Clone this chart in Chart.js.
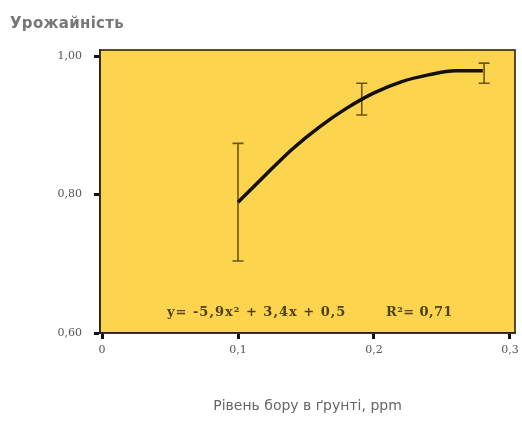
<!DOCTYPE html>
<html>
<head>
<meta charset="utf-8">
<script src="https://cdn.jsdelivr.net/npm/chart.js@4/dist/chart.umd.min.js"></script>
<style>
html,body{margin:0;padding:0;background:#fff;}
#wrap{width:522px;height:425px;position:relative;}
</style>
</head>
<body>
<div id="wrap"><canvas id="c" width="522" height="425"></canvas></div>
<script>
// Data
const curveX = [0.10, 0.12, 0.14, 0.16, 0.18, 0.20, 0.22, 0.24, 0.26, 0.28];
const curveY = [0.789, 0.828, 0.866, 0.898, 0.925, 0.947, 0.963, 0.973, 0.979, 0.979];
const errX = [0.100, 0.191, 0.281];
const errLow = [0.704, 0.915, 0.961];
const errHigh = [0.874, 0.961, 0.990];
const xTicks = [0, 0.1, 0.2, 0.3];
const xTickLabels = ['0', '0,1', '0,2', '0,3'];
const yTicks = [0.6, 0.8, 1.0];
const yTickLabels = ['0,60', '0,80', '1,00'];
const yTitle = 'Урожайність';
const xTitle = 'Рівень бору в ґрунті, ppm';
const eqText = 'y= -5,9x² + 3,4x + 0,5';
const r2Text = 'R²= 0,71';

const points = curveX.map((x, i) => ({x: x, y: curveY[i]}));

const decor = {
  id: 'decor',
  beforeDraw(chart) {
    const {ctx, chartArea: a} = chart;
    ctx.save();
    ctx.fillStyle = '#ffffff';
    ctx.fillRect(0, 0, chart.width, chart.height);
    ctx.fillStyle = '#fcd44e';
    ctx.fillRect(a.left, a.top, a.right - a.left, a.bottom - a.top);
    ctx.restore();
  },
  beforeDatasetsDraw(chart) {
    const {ctx, scales: {x, y}} = chart;
    ctx.save();
    ctx.strokeStyle = '#6b5416';
    ctx.lineWidth = 1.6;
    errX.forEach((ex, i) => {
      const px = x.getPixelForValue(ex);
      const pl = y.getPixelForValue(errLow[i]);
      const ph = y.getPixelForValue(errHigh[i]);
      ctx.beginPath();
      ctx.moveTo(px, pl); ctx.lineTo(px, ph);
      ctx.moveTo(px - 5.5, pl); ctx.lineTo(px + 5.5, pl);
      ctx.moveTo(px - 5.5, ph); ctx.lineTo(px + 5.5, ph);
      ctx.stroke();
    });
    ctx.restore();
  },
  afterDraw(chart) {
    const {ctx, chartArea: a} = chart;
    ctx.save();
    ctx.strokeStyle = '#2b2410';
    ctx.lineWidth = 1.6;
    ctx.strokeRect(a.left, a.top, a.right - a.left, a.bottom - a.top);
    // equation
    ctx.fillStyle = '#4f4010';
    ctx.font = 'bold 13px "DejaVu Serif"';
    ctx.textBaseline = 'middle';
    ctx.textAlign = 'left';
    ctx.letterSpacing = '1px';
    ctx.fillText(eqText, 167, 313);
    ctx.letterSpacing = '0.4px';
    ctx.fillText(r2Text, 386, 313);
    // y title
    ctx.fillStyle = '#777777';
    ctx.font = 'bold 15px "DejaVu Sans"';
    ctx.letterSpacing = '0.3px';
    ctx.fillText(yTitle, 10, 24);
    ctx.restore();
  }
};

new Chart(document.getElementById('c'), {
  type: 'scatter',
  data: {
    datasets: [{
      data: points,
      showLine: true,
      borderColor: '#140f06',
      borderWidth: 3.5,
      pointRadius: 0,
      tension: 0.4,
      cubicInterpolationMode: 'monotone',
      fill: false
    }]
  },
  options: {
    responsive: false,
    animation: false,
    devicePixelRatio: 1,
    layout: {padding: {top: 50, right: 7, left: 0, bottom: 0}},
    plugins: {legend: {display: false}, tooltip: {enabled: false}, title: {display: false}},
    scales: {
      x: {
        type: 'linear',
        min: -0.0015,
        max: 0.3037,
        afterBuildTicks(s) { s.ticks = xTicks.map(v => ({value: v})); },
        afterFit(s) { s.height = 92; s.paddingLeft = 0; s.paddingRight = 0; },
        ticks: {
          autoSkip: false, maxRotation: 0, padding: 5,
          color: '#555555',
          font: {family: '"DejaVu Serif"', size: 11},
          callback(v, i) { return xTickLabels[i]; }
        },
        grid: {display: true, drawOnChartArea: false, drawTicks: true, tickLength: 6, tickWidth: 3, tickColor: '#111111'},
        border: {display: true, color: '#2b2410', width: 1.6},
        title: {
          display: true, text: xTitle, color: '#666666',
          font: {family: '"DejaVu Sans"', size: 14},
          padding: {top: 0, bottom: 10}
        }
      },
      y: {
        type: 'linear',
        min: 0.6,
        max: 1.009,
        afterBuildTicks(s) { s.ticks = yTicks.map(v => ({value: v})); },
        afterFit(s) { s.width = 100; s.paddingTop = 0; s.paddingBottom = 0; },
        ticks: {
          autoSkip: false, padding: 12,
          color: '#555555',
          font: {family: '"DejaVu Serif"', size: 11},
          callback(v, i) { return yTickLabels[i]; }
        },
        grid: {display: true, drawOnChartArea: false, drawTicks: true, tickLength: 6, tickWidth: 3, tickColor: '#111111'},
        border: {display: true, color: '#2b2410', width: 1.6}
      }
    }
  },
  plugins: [decor]
});
</script>
</body>
</html>
